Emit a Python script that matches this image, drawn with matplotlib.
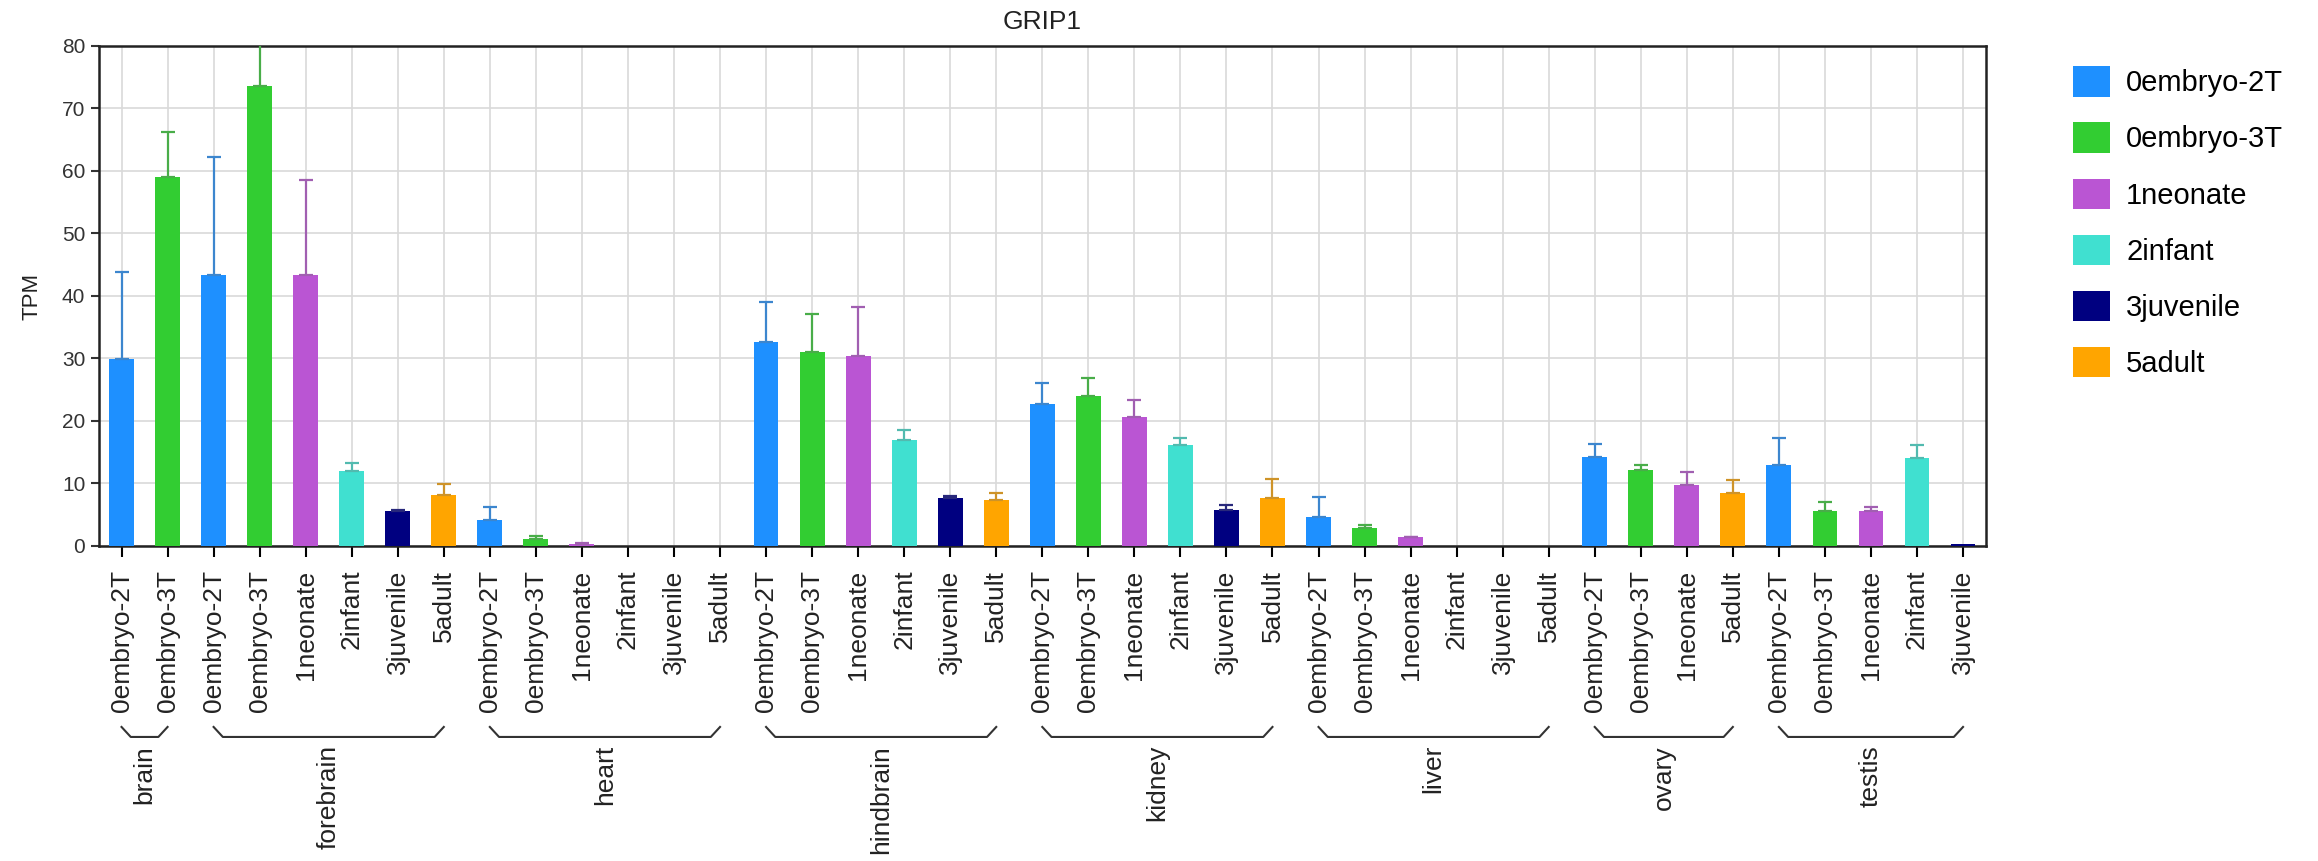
import numpy as np
import matplotlib.pyplot as plt
import matplotlib.colors as mcolors
from matplotlib.patches import Patch

plt.rcParams['font.family'] = ['Liberation Sans', 'DejaVu Sans']

# expression of GRIP1 per tissue and developmental stage
tissue_names = ['brain', 'forebrain', 'heart', 'hindbrain', 'kidney', 'liver', 'ovary', 'testis']
tissue_stages = [
    ['0embryo-2T', '0embryo-3T'],
    ['0embryo-2T', '0embryo-3T', '1neonate', '2infant', '3juvenile', '5adult'],
    ['0embryo-2T', '0embryo-3T', '1neonate', '2infant', '3juvenile', '5adult'],
    ['0embryo-2T', '0embryo-3T', '1neonate', '2infant', '3juvenile', '5adult'],
    ['0embryo-2T', '0embryo-3T', '1neonate', '2infant', '3juvenile', '5adult'],
    ['0embryo-2T', '0embryo-3T', '1neonate', '2infant', '3juvenile', '5adult'],
    ['0embryo-2T', '0embryo-3T', '1neonate', '5adult'],
    ['0embryo-2T', '0embryo-3T', '1neonate', '2infant', '3juvenile'],
]
tpm_mean = [
    [29.9, 59.1],
    [43.3, 73.6, 43.3, 12.0, 5.6, 8.1],
    [4.1, 1.1, 0.3, 0.0, 0.0, 0.0],
    [32.6, 31.0, 30.4, 17.0, 7.6, 7.3],
    [22.7, 24.0, 20.7, 16.2, 5.7, 7.6],
    [4.7, 2.9, 1.4, 0.0, 0.0, 0.0],
    [14.3, 12.2, 9.8, 8.4],
    [12.9, 5.6, 5.6, 14.0, 0.3],
]
tpm_err = [
    [13.9, 7.2],
    [18.9, 8.5, 15.3, 1.2, 0.2, 1.8],
    [2.1, 0.5, 0.1, 0.0, 0.0, 0.0],
    [6.4, 6.1, 7.9, 1.5, 0.4, 1.1],
    [3.4, 2.8, 2.6, 1.0, 0.8, 3.1],
    [3.2, 0.4, 0.1, 0.0, 0.0, 0.0],
    [2.0, 0.7, 2.0, 2.1],
    [4.3, 1.4, 0.6, 2.1, 0.0],
]

stage_order = ['0embryo-2T', '0embryo-3T', '1neonate', '2infant', '3juvenile', '5adult']
stage_colors = ['#1E90FF', '#32CD32', '#BA55D3', '#40E0D0', '#000080', '#FFA500']
color_of = dict(zip(stage_order, stage_colors))

labels = [s for st in tissue_stages for s in st]
means = np.array([v for vals in tpm_mean for v in vals])
errs = np.array([v for vals in tpm_err for v in vals])
x = np.arange(len(labels))
bar_colors = [color_of[s] for s in labels]


def muted(c, amount=0.35):
    r, g, b = mcolors.to_rgb(c)
    return (r * (1 - amount) + 0.45 * amount, g * (1 - amount) + 0.45 * amount, b * (1 - amount) + 0.45 * amount)


fig = plt.figure(figsize=(23.18, 8.61), dpi=100)
ax = fig.add_axes([0.0425, 0.3659, 0.8143, 0.5807])

ax.bar(x, means, width=0.54, color=bar_colors, zorder=3)
for xi, m, e, c in zip(x, means, errs, bar_colors):
    if e > 0:
        ax.errorbar(xi, m, yerr=[[0], [e]], fmt='none', ecolor=muted(c), elinewidth=1.6,
                    capsize=5, capthick=1.6, zorder=4)

ax.set_xlim(-0.5, len(labels) - 0.5)
ax.set_ylim(0, 80)
ax.set_yticks(np.arange(0, 81, 10))
ax.set_xticks(x)
ax.set_xticklabels(labels, rotation=90, fontsize=19, color='#222222')
ax.tick_params(axis='x', length=8, width=1.5, pad=9)
ax.tick_params(axis='y', length=6, width=1.5, labelsize=15, colors='#333333')
ax.grid(True, color='#d9d9d9', linewidth=1.2, zorder=0)
ax.set_axisbelow(True)
for sp in ax.spines.values():
    sp.set_linewidth(1.8)
    sp.set_color('#222222')

ax.set_title('GRIP1', fontsize=19, color='#222222', pad=12)
ax.set_ylabel('TPM', fontsize=16, color='#222222', labelpad=14)

# tissue brackets beneath the stage labels
trans = ax.get_xaxis_transform()
start = 0
for name, st in zip(tissue_names, tissue_stages):
    a, b = start, start + len(st) - 1
    ax.plot([a, a + 0.2, b - 0.2, b], [-0.362, -0.382, -0.382, -0.362], transform=trans,
            color='#333333', linewidth=1.5, clip_on=False)
    ax.text((a + b) / 2, -0.398, name, transform=trans, rotation=90, ha='center', va='top',
            fontsize=19, color='#222222')
    start += len(st)

handles = [Patch(facecolor=c, edgecolor='none') for c in stage_colors]
fig.legend(handles, stage_order, loc='upper left', bbox_to_anchor=(0.8943, 0.923), frameon=False,
           fontsize=21, handlelength=1.27, handleheight=1.23, labelspacing=0.86,
           handletextpad=0.55, borderpad=0, borderaxespad=0)

fig.savefig('out.png', dpi=100)
